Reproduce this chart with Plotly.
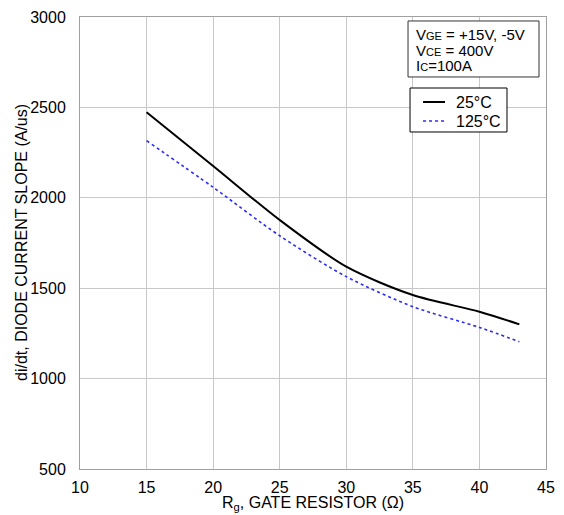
import plotly.graph_objects as go

rg = [15, 20, 25, 30, 35, 40, 43]
slope_25 = [2473, 2176, 1877, 1619, 1462, 1370, 1300]
slope_125 = [2316, 2058, 1790, 1564, 1398, 1283, 1204]
x_ticks = [10, 15, 20, 25, 30, 35, 40, 45]
y_ticks = [500, 1000, 1500, 2000, 2500, 3000]
series_names = ["25°C", "125°C"]
info_lines = ["V<span style='font-size:11px'>GE</span> = +15V, -5V",
              "V<span style='font-size:11px'>CE</span> = 400V",
              "I<span style='font-size:11px'>C</span>=100A"]

c25 = "black"
c125 = "#2b2bff"

fig = go.Figure()
fig.add_trace(go.Scatter(x=rg, y=slope_25, mode="lines", name=series_names[0],
                         line=dict(color=c25, width=2, shape="spline", smoothing=0.8)))
fig.add_trace(go.Scatter(x=rg, y=slope_125, mode="lines", name=series_names[1],
                         line=dict(color=c125, width=1.6, dash="dot", shape="spline", smoothing=0.8)))

font = "Liberation Sans, Arial, sans-serif"
fig.update_layout(
    width=556, height=507,
    margin=dict(l=72, r=18, t=9, b=46),
    paper_bgcolor="white", plot_bgcolor="white",
    font=dict(family=font, size=16, color="black"),
    showlegend=False,
    xaxis=dict(range=[10, 45], tickvals=x_ticks, showgrid=True, gridcolor="#c8c8c8",
               showline=True, linecolor="#a0a0a0", mirror=True, zeroline=False,
               ticks="", tickfont=dict(size=16), automargin=False, ticklabelstandoff=4),
    yaxis=dict(range=[500, 3000], tickvals=y_ticks, showgrid=True, gridcolor="#c8c8c8",
               showline=True, linecolor="#a0a0a0", mirror=True, zeroline=False,
               ticks="", tickfont=dict(size=16), automargin=False, ticklabelstandoff=10),
)

# axis titles
fig.add_annotation(
    xref="paper", yref="paper", x=0.5, y=0, xanchor="center", yanchor="middle",
    yshift=-34, showarrow=False,
    text="R<sub>g</sub>, GATE RESISTOR (Ω)", font=dict(size=16, family=font, color="black"),
)
fig.add_annotation(
    xref="paper", yref="paper", x=0, y=0.5, xanchor="center", yanchor="middle",
    xshift=-59, textangle=-90, showarrow=False,
    text="di/dt, DIODE CURRENT SLOPE (A/us)", font=dict(size=16, family=font, color="black"),
)

# condition box
fig.add_shape(type="rect", xref="paper", yref="paper", x0=0.7039, x1=0.9850, y0=0.8673, y1=0.9912,
              line=dict(color="#333333", width=1), fillcolor="white", layer="above")
for txt, yy in zip(info_lines, [0.9608, 0.9248, 0.8916]):
    fig.add_annotation(xref="paper", yref="paper", x=0.7167, y=yy, xanchor="left", yanchor="middle",
                       showarrow=False, text=txt, font=dict(size=15, family=font, color="black"))

# legend box
fig.add_shape(type="rect", xref="paper", yref="paper", x0=0.7082, x1=0.9163, y0=0.7456, y1=0.8429,
              line=dict(color="black", width=1), fillcolor="white", layer="above")
fig.add_shape(type="line", xref="paper", yref="paper", x0=0.7361, x1=0.7833, y0=0.8119, y1=0.8119,
              line=dict(color=c25, width=2), layer="above")
fig.add_shape(type="line", xref="paper", yref="paper", x0=0.7361, x1=0.7833, y0=0.7699, y1=0.7699,
              line=dict(color=c125, width=1.6, dash="dot"), layer="above")
for txt, yy in zip(series_names, [0.8119, 0.7699]):
    fig.add_annotation(xref="paper", yref="paper", x=0.8026, y=yy, xanchor="left", yanchor="middle",
                       showarrow=False, text=txt, font=dict(size=16, family=font, color="black"))

fig.write_html("out.html")
